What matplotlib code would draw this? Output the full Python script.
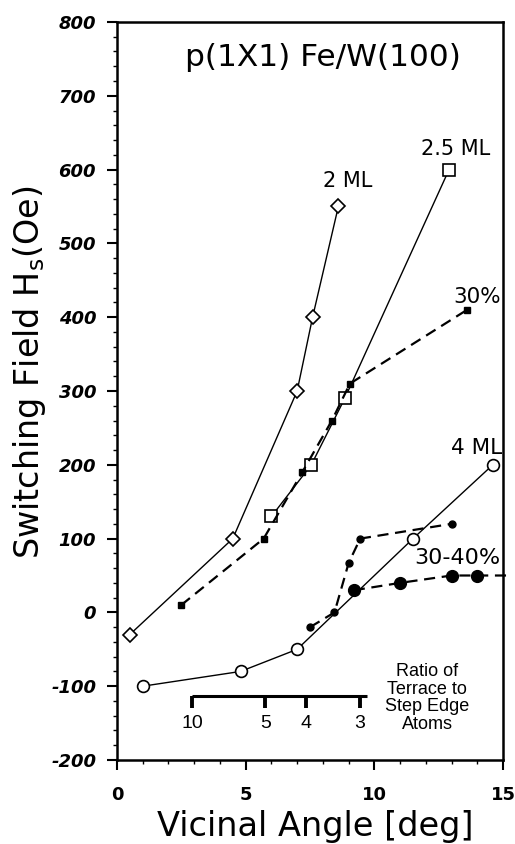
import matplotlib
matplotlib.use("Agg")
import matplotlib.pyplot as plt

plt.rcParams['axes.unicode_minus'] = False

# ---- data ----
ml2_x = [0.5, 4.5, 7.0, 7.6, 8.6]
ml2_y = [-30, 100, 300, 400, 550]

ml25_x = [6.0, 7.55, 8.85, 12.9]
ml25_y = [130, 200, 290, 600]

p30_x = [2.5, 5.7, 7.2, 8.35, 9.05, 13.6]
p30_y = [10, 100, 190, 260, 310, 410]

ml4_x = [1.0, 4.8, 7.0, 11.5, 14.6]
ml4_y = [-100, -80, -50, 100, 200]

small_x = [7.5, 8.45, 9.0, 9.45, 13.0]
small_y = [-20, 0, 67, 100, 120]

p3040_x = [9.2, 11.0, 13.0, 14.0, 15.3]
p3040_y = [30, 40, 50, 50, 50]
p3040_nmarkers = 4

ratio_labels = ["10", "5", "4", "3"]
ratio_angles = [2.93, 5.77, 7.35, 9.43]
ratio_bar_x = [2.93, 9.73]
ratio_bar_y = -113

x_ticks = [0, 5, 10, 15]
y_ticks = [-200, -100, 0, 100, 200, 300, 400, 500, 600, 700, 800]

# ---- figure ----
fig = plt.figure(figsize=(5.15, 8.44), dpi=100)
ax = fig.add_axes([0.227, 0.0995, 0.750, 0.8745])
ax.set_xlim(0, 15)
ax.set_ylim(-200, 800)

lw_solid = 1.0
lw_dash = 1.6
dash = (0, (5, 3))

ax.plot(ml2_x, ml2_y, '-', color='black', lw=lw_solid, marker='D', ms=7.5,
        mfc='white', mec='black', mew=1.2, zorder=3)
ax.plot(ml25_x, ml25_y, '-', color='black', lw=lw_solid, marker='s', ms=9,
        mfc='white', mec='black', mew=1.2, zorder=3)
ax.plot(p30_x, p30_y, linestyle=dash, color='black', lw=lw_dash, marker='s', ms=5,
        mfc='black', mec='black', zorder=3)
ax.plot(ml4_x, ml4_y, '-', color='black', lw=lw_solid, marker='o', ms=8.5,
        mfc='white', mec='black', mew=1.2, zorder=3)
ax.plot(small_x, small_y, linestyle=dash, color='black', lw=lw_dash, marker='o', ms=5,
        mfc='black', mec='black', zorder=3)
ax.plot(p3040_x, p3040_y, linestyle=dash, color='black', lw=lw_dash, zorder=3, clip_on=False)
ax.plot(p3040_x[:p3040_nmarkers], p3040_y[:p3040_nmarkers], linestyle='none', marker='o',
        ms=8.5, mfc='black', mec='black', zorder=4)

# ratio scale bar
ax.plot(ratio_bar_x, [ratio_bar_y, ratio_bar_y], '-', color='black', lw=2.2, solid_capstyle='butt')
for a, lab in zip(ratio_angles, ratio_labels):
    ax.plot([a, a], [ratio_bar_y, ratio_bar_y - 16], '-', color='black', lw=2.8,
            solid_capstyle='butt')
    ax.text(a, ratio_bar_y - 38, lab, ha='center', va='center', fontsize=14,
            family='Liberation Sans')
ax.text(12.05, -116, "Ratio of\nTerrace to\nStep Edge\nAtoms", ha='center', va='center',
        fontsize=13, family='Liberation Sans', linespacing=1.05)

# labels
ax.text(8.0, 752, "p(1X1) Fe/W(100)", ha='center', va='center', fontsize=22.5,
        family='DejaVu Sans')
ax.text(8.95, 585, "2 ML", ha='center', va='center', fontsize=15, family='DejaVu Sans')
ax.text(13.17, 628, "2.5 ML", ha='center', va='center', fontsize=15, family='DejaVu Sans')
ax.text(14.0, 428, "30%", ha='center', va='center', fontsize=15.5, family='DejaVu Sans')
ax.text(13.95, 223, "4 ML", ha='center', va='center', fontsize=15.5, family='DejaVu Sans')
ax.text(13.23, 74, "30-40%", ha='center', va='center', fontsize=16, family='DejaVu Sans')

ax.set_ylabel("Switching Field H$_\\mathregular{s}$(Oe)", fontsize=24, family='DejaVu Sans')
ax.yaxis.set_label_coords(-0.178, 0.525)
ax.set_xlabel("Vicinal Angle [deg]", fontsize=24.2, family='DejaVu Sans')
ax.xaxis.set_label_coords(0.513, -0.068)

# ticks
ax.set_xticks(x_ticks, labels=[str(v) for v in x_ticks], fontsize=13,
              fontweight='bold', family='DejaVu Sans')
ax.set_yticks(y_ticks, labels=[str(v) for v in y_ticks], fontsize=13,
              fontweight='bold', fontstyle='italic', family='DejaVu Sans')
ax.set_xticks(range(0, 16), minor=True)
ax.set_yticks(range(-200, 801, 20), minor=True)
ax.tick_params(which='major', direction='out', length=7, width=1.5)
ax.tick_params(which='minor', direction='out', length=3, width=1.0)
ax.tick_params(axis='x', which='major', pad=12)
ax.tick_params(axis='y', which='major', pad=8)

for s in ax.spines.values():
    s.set_linewidth(1.8)

fig.savefig("out.png", dpi=100)
